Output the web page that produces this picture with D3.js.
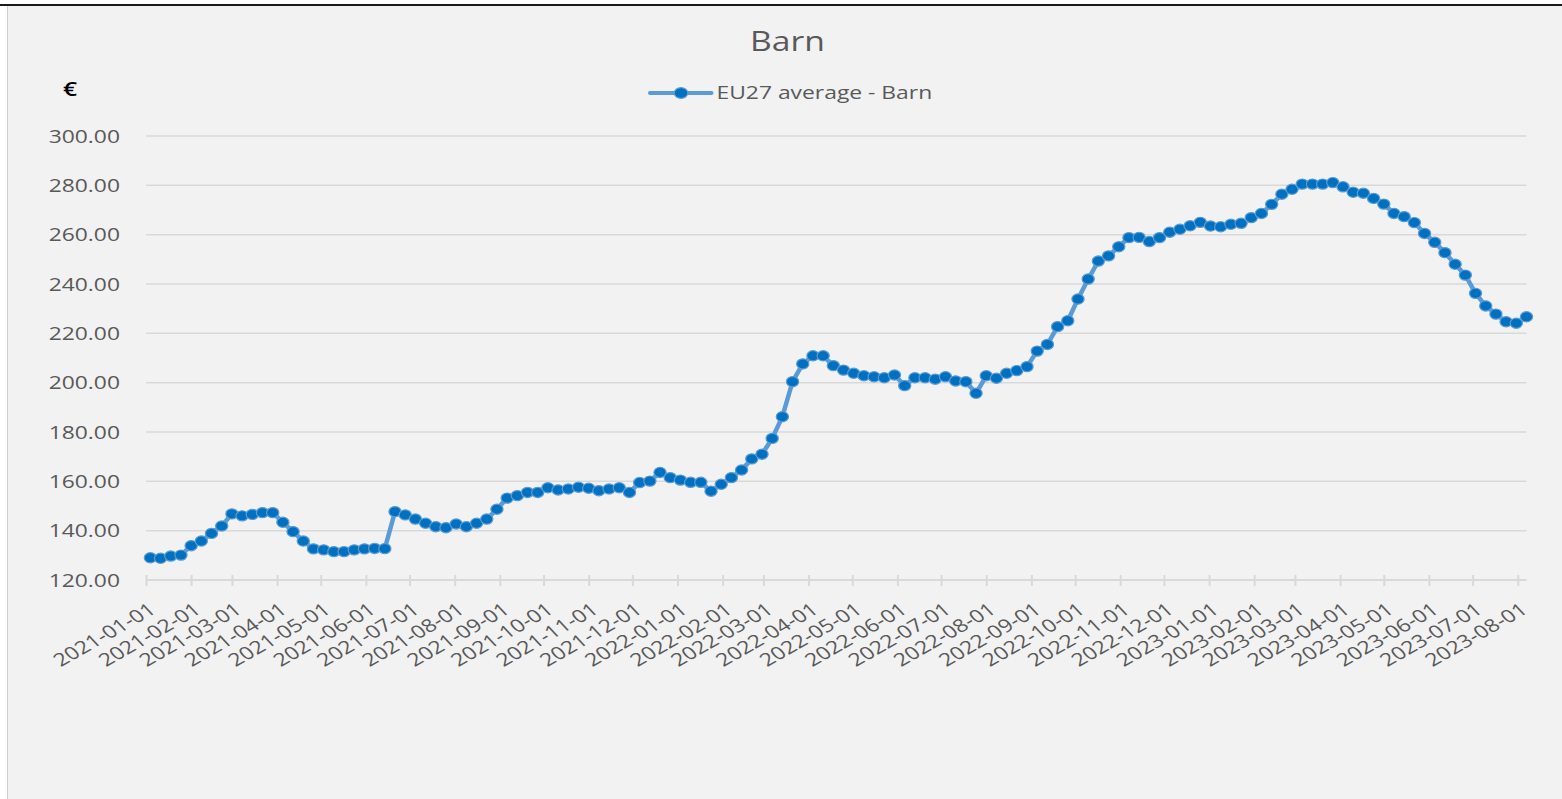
<!DOCTYPE html>
<html>
<head>
<meta charset="utf-8">
<script src="https://cdn.jsdelivr.net/npm/d3@7"></script>
<style>
  html, body { margin: 0; padding: 0; background: #ffffff; }
  svg { display: block; }
  text { font-family: "Open Sans", "DejaVu Sans", sans-serif; }
</style>
</head>
<body>
<svg id="chart" width="1562" height="799"></svg>
<script>
// ---------------- data ----------------
const chartTitle = "Barn";
const seriesName = "EU27 average - Barn";
const unitLabel = "€";
const firstWeek = "2021-01-04";   // weekly observations (Mondays)
const lastWeek = "2023-08-07";
const axisStart = "2021-01-01";
const lastMonthTick = "2023-08-01";
const yTickValues = [120, 140, 160, 180, 200, 220, 240, 260, 280, 300];
const barnPrices = [
  129.0, 128.8, 129.7, 130.1, 133.9, 135.8, 138.9, 141.9, 146.8, 146.0,
  146.6, 147.3, 147.3, 143.4, 139.6, 135.8, 132.6, 132.2, 131.5, 131.5,
  132.2, 132.6, 132.8, 132.7, 147.7, 146.4, 144.7, 143.0, 141.6, 141.2,
  142.7, 141.6, 143.0, 144.7, 148.7, 153.2, 154.2, 155.5, 155.5, 157.4,
  156.5, 156.9, 157.6, 157.2, 156.2, 156.9, 157.4, 155.5, 159.5, 160.1,
  163.6, 161.5, 160.5, 159.6, 159.6, 156.0, 158.8, 161.5, 164.6, 169.1,
  171.0, 177.4, 186.2, 200.4, 207.6, 210.9, 210.9, 206.9, 205.1, 203.8,
  202.8, 202.4, 202.0, 203.1, 198.8, 202.0, 202.0, 201.4, 202.4, 200.7,
  200.4, 195.7, 202.8, 201.8, 203.8, 204.9, 206.5, 212.8, 215.5, 222.7,
  225.1, 233.9, 242.0, 249.3, 251.4, 255.1, 258.8, 258.9, 257.2, 258.8,
  261.0, 262.2, 263.6, 265.0, 263.5, 263.2, 264.2, 264.6, 266.9, 268.6,
  272.3, 276.4, 278.4, 280.5, 280.5, 280.5, 281.1, 279.4, 277.2, 276.8,
  274.7, 272.4, 268.6, 267.3, 264.9, 260.5, 256.9, 252.7, 248.0, 243.6,
  236.2, 231.1, 227.8, 224.7, 224.1, 226.7
];

// ---------------- setup ----------------
const W = 1562, H = 799;
const SX = 1.27; // horizontal text stretch seen in the reference
const textColor = "#595959";
const gridColor = "#d9d9d9";
const lineColor = "#5b9bd5";
const markerFill = "#0070c0";

const svg = d3.select("#chart");

// frame
svg.append("rect").attr("x", 7).attr("y", 6).attr("width", W - 7).attr("height", H - 6).attr("fill", "#f2f2f2");
svg.append("line").attr("x1", 7.5).attr("x2", 7.5).attr("y1", 6).attr("y2", H).attr("stroke", "#d0d0d0").attr("stroke-width", 1);
svg.append("line").attr("x1", 0).attr("x2", W).attr("y1", 5).attr("y2", 5).attr("stroke", "#1a1a1a").attr("stroke-width", 2);

const parse = d3.utcParse("%Y-%m-%d");
const weeks = d3.utcMonday.range(parse(firstWeek), d3.utcDay.offset(parse(lastWeek), 1));
const data = weeks.map((d, i) => ({ date: d, value: barnPrices[i] }));

const x = d3.scaleUtc().domain([parse(axisStart), parse(lastWeek)]).range([146, 1526.5]);
const y = d3.scaleLinear().domain([120, 300]).range([580, 136]);

// gridlines
svg.append("g")
  .selectAll("line")
  .data(yTickValues.filter(v => v > 120))
  .join("line")
  .attr("x1", x.range()[0]).attr("x2", x.range()[1])
  .attr("y1", d => y(d)).attr("y2", d => y(d))
  .attr("stroke", gridColor).attr("stroke-width", 1.5);

// y axis
const yAxis = svg.append("g")
  .attr("transform", `translate(${x.range()[0]},0)`)
  .call(d3.axisLeft(y).tickValues(yTickValues).tickFormat(d3.format(".2f")).tickSize(0));
yAxis.select(".domain").remove();
yAxis.selectAll("text")
  .attr("x", 0).attr("dy", "0.35em")
  .attr("transform", `translate(-26,0) scale(${SX},1)`)
  .attr("fill", textColor).style("font-size", "18px").attr("text-anchor", "end");

// x axis
const monthTicks = d3.utcMonth.range(parse(axisStart), d3.utcDay.offset(parse(lastMonthTick), 1));
const xAxis = svg.append("g")
  .attr("transform", `translate(0,${y(120)})`)
  .call(d3.axisBottom(x).tickValues(monthTicks).tickFormat(d3.utcFormat("%Y-%m-%d")).tickSize(6).tickSizeOuter(0));
xAxis.select(".domain").attr("stroke", gridColor).attr("stroke-width", 2)
  .attr("d", `M${x.range()[0]},0H${x.range()[1]}`);
xAxis.selectAll(".tick line").attr("stroke", gridColor).attr("stroke-width", 2).attr("y1", -5).attr("y2", 6);
xAxis.selectAll(".tick text")
  .attr("x", 0).attr("y", 0).attr("dy", "0.35em")
  .attr("text-anchor", "end")
  .attr("transform", `translate(6,27) scale(${SX},1) rotate(-36)`)
  .attr("fill", textColor).style("font-size", "18px");

// series line
const line = d3.line().x(d => x(d.date)).y(d => y(d.value));
svg.append("path").datum(data)
  .attr("d", line).attr("fill", "none")
  .attr("stroke", lineColor).attr("stroke-width", 4.5).attr("stroke-linejoin", "round");

// markers
svg.append("g").selectAll("ellipse").data(data).join("ellipse")
  .attr("cx", d => x(d.date)).attr("cy", d => y(d.value))
  .attr("rx", 6.1).attr("ry", 5.1)
  .attr("fill", markerFill).attr("stroke", lineColor).attr("stroke-width", 1.2);

// title
svg.append("text")
  .attr("transform", `translate(787.5,50.5) scale(${SX},1)`)
  .attr("text-anchor", "middle").attr("fill", textColor)
  .style("font-size", "26.5px").text(chartTitle);

// unit label
svg.append("text")
  .attr("transform", `translate(63,95.5) scale(${SX},1)`)
  .attr("fill", "#000").style("font-size", "19.5px").style("font-weight", "600")
  .text(unitLabel);

// legend
const lg = svg.append("g");
lg.append("line").attr("x1", 650).attr("x2", 711.5).attr("y1", 93).attr("y2", 93)
  .attr("stroke", lineColor).attr("stroke-width", 4).attr("stroke-linecap", "round");
lg.append("ellipse").attr("cx", 681).attr("cy", 93).attr("rx", 6.8).attr("ry", 5.3)
  .attr("fill", markerFill).attr("stroke", lineColor).attr("stroke-width", 1.2);
lg.append("text").attr("transform", `translate(716.5,99.3) scale(${SX},1)`)
  .attr("fill", textColor).style("font-size", "18px").text(seriesName);
</script>
</body>
</html>
